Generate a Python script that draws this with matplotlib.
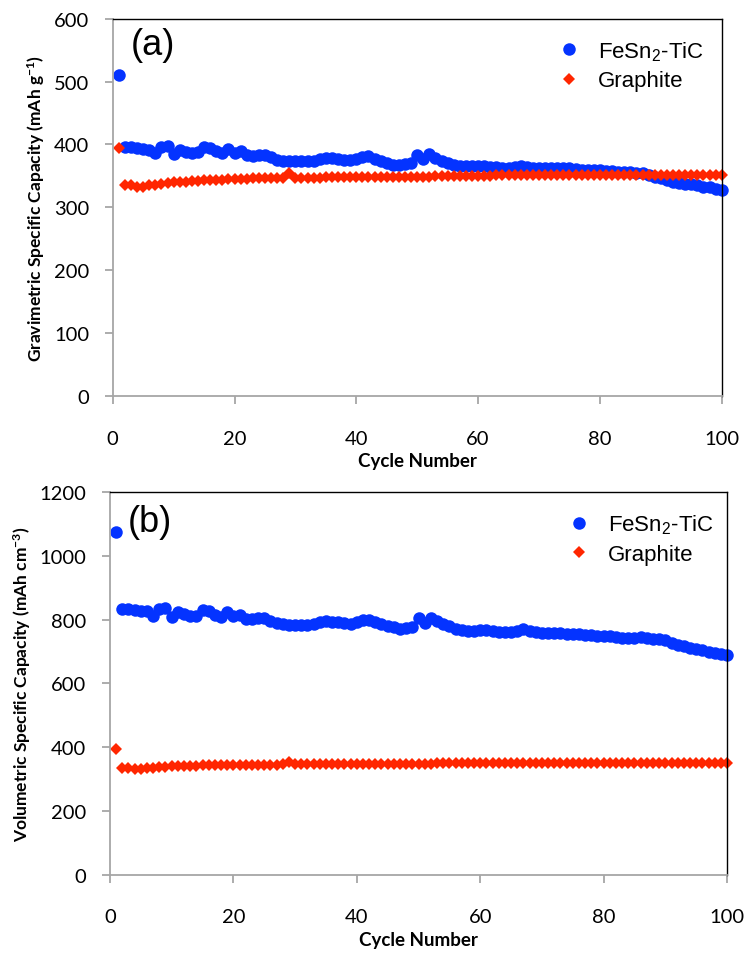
import matplotlib
matplotlib.use("Agg")
import matplotlib.pyplot as plt

# cycle numbers 1..100
cycles = list(range(1, 101))

# gravimetric capacity (mAh g-1)
fesn2_grav = [510,
              396, 396, 395, 393, 392, 387, 396, 398, 385,
              391, 388, 387, 388, 396, 395, 389, 387, 393, 387,
              389, 383, 382, 384, 383, 380, 376, 374, 374, 373,
              373, 373, 374, 377, 379, 378, 377, 376, 375, 377,
              380, 381, 377, 373, 371, 368, 367, 369, 371, 384,
              377, 385, 379, 374, 370, 368, 366, 366, 366, 366,
              366, 365, 364, 363, 363, 364, 366, 364, 363, 363,
              363, 362, 362, 362, 362, 361, 360, 360, 359, 359,
              358, 358, 357, 357, 356, 355, 354, 352, 349, 346,
              343, 341, 339, 338, 337, 335, 333, 332, 330, 328]

graphite_grav = [395,
                 336, 336, 333, 332, 335, 336, 338, 339, 340,
                 340, 341, 342, 342, 344, 344, 344, 344, 345, 345,
                 345, 345, 346, 346, 346, 346, 346, 347, 355, 347,
                 347, 347, 347, 347, 348, 348, 348, 348, 348, 348,
                 348, 348, 348, 349, 349, 349, 349, 349, 349, 349,
                 349, 349, 350, 350, 350, 350, 350, 350, 350, 350,
                 350, 350, 351, 351, 351, 351, 351, 351, 351, 351,
                 351, 351, 351, 352, 352, 352, 352, 352, 352, 352,
                 352, 352, 352, 352, 352, 352, 352, 352, 352, 352,
                 352, 352, 352, 352, 352, 352, 352, 352, 352, 352]

# volumetric capacity (mAh cm-3)
fesn2_vol = [1075,
             835, 833, 831, 828, 826, 812, 833, 836, 807,
             823, 818, 812, 812, 831, 828, 816, 809, 823, 812,
             816, 802, 802, 806, 804, 797, 789, 785, 784, 784,
             784, 784, 787, 792, 795, 794, 792, 789, 787, 794,
             800, 800, 794, 787, 781, 776, 771, 773, 776, 804,
             789, 804, 797, 787, 779, 771, 767, 766, 766, 767,
             768, 765, 762, 760, 760, 765, 772, 764, 760, 759,
             759, 758, 757, 756, 755, 755, 753, 751, 750, 750,
             748, 746, 743, 742, 744, 745, 743, 741, 739, 735,
             728, 722, 717, 712, 709, 705, 700, 697, 693, 688]

graphite_vol = [395,
                336, 336, 333, 332, 335, 336, 338, 339, 340,
                340, 341, 342, 342, 344, 344, 344, 344, 345, 345,
                345, 345, 346, 346, 346, 346, 346, 347, 355, 347,
                347, 347, 347, 347, 348, 348, 348, 348, 348, 348,
                348, 348, 348, 349, 349, 349, 349, 349, 349, 349,
                349, 349, 350, 350, 350, 350, 350, 350, 350, 350,
                350, 350, 351, 351, 351, 351, 351, 351, 351, 351,
                351, 351, 351, 352, 352, 352, 352, 352, 352, 352,
                352, 352, 352, 352, 352, 352, 352, 352, 352, 352,
                352, 352, 352, 352, 352, 352, 352, 352, 352, 352]

BLUE = "#0433ff"
RED = "#ff2600"
GRAY = "#a6a6a6"
TICK_FONT = "Lato"
LEGEND_FONT = "Liberation Sans"


def style_axes(ax, ymax, ystep, ylabel, panel, panel_y, leg_x):
    ax.set_xlim(0, 100)
    ax.set_ylim(0, ymax)
    ax.set_xticks(range(0, 101, 20))
    ax.set_yticks(range(0, ymax + 1, ystep))
    for side in ("top", "right"):
        ax.spines[side].set_color("black")
        ax.spines[side].set_linewidth(1.0)
    for side in ("left", "bottom"):
        ax.spines[side].set_color(GRAY)
        ax.spines[side].set_linewidth(1.3)
    ax.tick_params(axis="both", direction="out", length=6, width=1.3,
                   color=GRAY, labelsize=14.5, labelcolor="black")
    ax.tick_params(axis="x", pad=18)
    ax.tick_params(axis="y", pad=11)
    for lab in ax.get_xticklabels() + ax.get_yticklabels():
        lab.set_fontfamily(TICK_FONT)
    ax.set_xlabel("Cycle Number", fontsize=13.5, fontweight="bold",
                  family=TICK_FONT, labelpad=4)
    ax.set_ylabel(ylabel, fontsize=12.5, fontweight="bold",
                  family=TICK_FONT, labelpad=5)
    ax.text(0.029, panel_y, panel, transform=ax.transAxes, fontsize=26,
            family=LEGEND_FONT, va="center", ha="left")
    leg = ax.legend(loc="upper left", bbox_to_anchor=(leg_x, 0.975),
                    frameon=False, handlelength=0.8,
                    handletextpad=0.9, labelspacing=0.35, borderpad=0,
                    prop={"family": LEGEND_FONT, "size": 16})
    return leg


fig = plt.figure(figsize=(7.44, 9.54), dpi=100)
ax1 = fig.add_axes([0.1515, 0.5835, 0.8185, 0.396])
ax2 = fig.add_axes([0.1478, 0.0818, 0.8294, 0.4014])

for ax, fe, gr in ((ax1, fesn2_grav, graphite_grav), (ax2, fesn2_vol, graphite_vol)):
    ax.plot(cycles, fe, linestyle="none", marker="o", markersize=9,
            color=BLUE, markeredgewidth=0, label=r"FeSn$\mathregular{_2}$-TiC",
            clip_on=False)
    ax.plot(cycles, gr, linestyle="none", marker="D", markersize=6,
            color=RED, markeredgewidth=0, label="Graphite", clip_on=False)

style_axes(ax1, 600, 100, r"Gravimetric Specific Capacity (mAh g$\mathregular{^{-1}}$)",
           "(a)", 0.932, 0.716)
style_axes(ax2, 1200, 200, r"Volumetric Specific Capacity (mAh cm$\mathregular{^{-3}}$)",
           "(b)", 0.922, 0.728)

fig.savefig("out.png", dpi=100)
